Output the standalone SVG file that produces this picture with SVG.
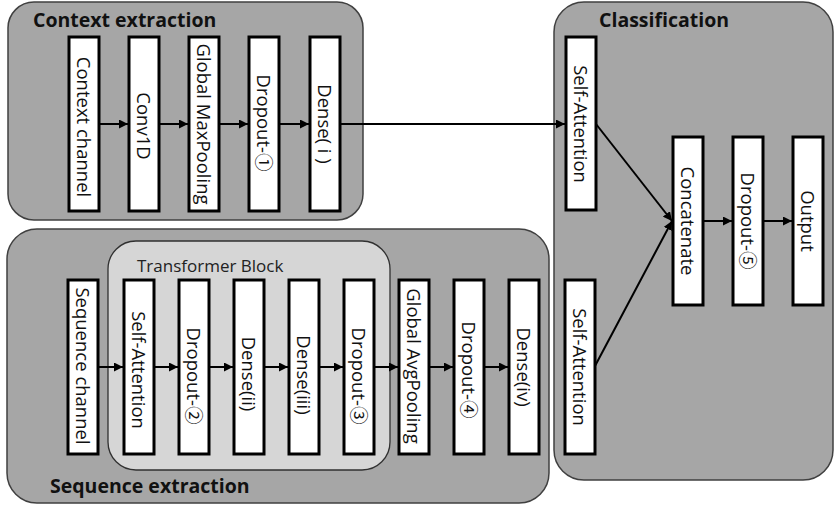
<svg xmlns="http://www.w3.org/2000/svg" width="836" height="507" viewBox="0 0 836 507">
  <style>
    .panel { fill: #a6a6a6; stroke: #404040; stroke-width: 1.5; }
    .block { fill: #d6d6d6; stroke: #303030; stroke-width: 1.3; }
    .layer rect { fill: #ffffff; stroke: #000000; stroke-width: 3; }
    .layer text { font-family: "Open Sans", "Noto Sans CJK KR", sans-serif; font-size: 18.5px; fill: #111; text-anchor: middle; dominant-baseline: central; }
    .title { font-family: "Open Sans", "Noto Sans CJK KR", sans-serif; font-size: 19.5px; font-weight: bold; fill: #111; }
    .sub { font-family: "Open Sans", "Noto Sans CJK KR", sans-serif; font-size: 17px; fill: #222; }
    .conn line { stroke: #000; stroke-width: 2; marker-end: url(#arrow); }
  </style>
  <defs>
    <marker id="arrow" viewBox="0 0 10 10" refX="10" refY="5" markerWidth="4.5" markerHeight="4.5" orient="auto" markerUnits="strokeWidth">
      <path d="M0,0 L10,5 L0,10 z" fill="#000"/>
    </marker>
  </defs>

  <!-- panels -->
  <g id="context-extraction">
    <rect class="panel" x="8" y="2" width="355" height="218" rx="26"/>
    <text class="title" x="33" y="27">Context extraction</text>
  </g>
  <g id="sequence-extraction">
    <rect class="panel" x="7" y="229" width="542" height="274" rx="30"/>
    <text class="title" x="50" y="493">Sequence extraction</text>
  </g>
  <g id="classification">
    <rect class="panel" x="554" y="2" width="279" height="478" rx="30"/>
    <text class="title" x="599" y="27">Classification</text>
  </g>
  <g id="transformer-block">
    <rect class="block" x="108" y="241" width="282" height="229" rx="28"/>
    <text class="sub" x="137" y="272">Transformer Block</text>
  </g>

  <!-- context branch -->
  <g id="context-channel" class="layer">
    <rect x="69" y="37" width="30" height="174"/>
    <text transform="translate(84,127) rotate(90)">Context channel</text>
  </g>
  <g id="conv1d" class="layer">
    <rect x="129" y="37" width="30" height="174"/>
    <text transform="translate(144,126) rotate(90)">Conv1D</text>
  </g>
  <g id="global-maxpooling" class="layer">
    <rect x="189" y="37" width="30" height="174"/>
    <text transform="translate(204,124) rotate(90)">Global MaxPooling</text>
  </g>
  <g id="dropout-1" class="layer">
    <rect x="249" y="37" width="30" height="174"/>
    <text transform="translate(264,123) rotate(90)">Dropout-①</text>
  </g>
  <g id="dense-i" class="layer">
    <rect x="310" y="37" width="30" height="174"/>
    <text transform="translate(325,124) rotate(90)">Dense( i )</text>
  </g>

  <!-- sequence branch -->
  <g id="sequence-channel" class="layer">
    <rect x="68" y="280" width="30" height="174"/>
    <text transform="translate(83,366) rotate(90)">Sequence channel</text>
  </g>
  <g id="self-attention-seq" class="layer">
    <rect x="124" y="280" width="30" height="174"/>
    <text transform="translate(139,370) rotate(90)">Self-Attention</text>
  </g>
  <g id="dropout-2" class="layer">
    <rect x="179" y="280" width="30" height="174"/>
    <text transform="translate(194,376) rotate(90)">Dropout-②</text>
  </g>
  <g id="dense-ii" class="layer">
    <rect x="234" y="280" width="30" height="174"/>
    <text transform="translate(249,374) rotate(90)">Dense(ii)</text>
  </g>
  <g id="dense-iii" class="layer">
    <rect x="289" y="280" width="30" height="174"/>
    <text transform="translate(304,375) rotate(90)">Dense(iii)</text>
  </g>
  <g id="dropout-3" class="layer">
    <rect x="344" y="280" width="30" height="174"/>
    <text transform="translate(359,376) rotate(90)">Dropout-③</text>
  </g>
  <g id="global-avgpooling" class="layer">
    <rect x="399" y="280" width="30" height="174"/>
    <text transform="translate(414,366) rotate(90)">Global AvgPooling</text>
  </g>
  <g id="dropout-4" class="layer">
    <rect x="454" y="280" width="30" height="174"/>
    <text transform="translate(469,370) rotate(90)">Dropout-④</text>
  </g>
  <g id="dense-iv" class="layer">
    <rect x="509" y="280" width="30" height="174"/>
    <text transform="translate(524,367) rotate(90)">Dense(iv)</text>
  </g>

  <!-- classification head -->
  <g id="self-attention-ctx" class="layer">
    <rect x="566" y="37" width="30" height="173"/>
    <text transform="translate(581,124) rotate(90)">Self-Attention</text>
  </g>
  <g id="self-attention-cls" class="layer">
    <rect x="565" y="280" width="30" height="174"/>
    <text transform="translate(580,367) rotate(90)">Self-Attention</text>
  </g>
  <g id="concatenate" class="layer">
    <rect x="673" y="137" width="30" height="168"/>
    <text transform="translate(688,221) rotate(90)">Concatenate</text>
  </g>
  <g id="dropout-5" class="layer">
    <rect x="733" y="137" width="30" height="168"/>
    <text transform="translate(748,221) rotate(90)">Dropout-⑤</text>
  </g>
  <g id="output" class="layer">
    <rect x="793" y="137" width="30" height="168"/>
    <text transform="translate(808,221) rotate(90)">Output</text>
  </g>

  <!-- connectors -->
  <g id="connectors" class="conn">
    <line x1="99" y1="124" x2="128" y2="124"/>
    <line x1="159" y1="124" x2="188" y2="124"/>
    <line x1="219" y1="124" x2="248" y2="124"/>
    <line x1="279" y1="124" x2="309" y2="124"/>
    <line x1="340" y1="124" x2="565" y2="124"/>

    <line x1="98" y1="367" x2="123" y2="367"/>
    <line x1="154" y1="367" x2="178" y2="367"/>
    <line x1="209" y1="367" x2="233" y2="367"/>
    <line x1="264" y1="367" x2="288" y2="367"/>
    <line x1="319" y1="367" x2="343" y2="367"/>
    <line x1="374" y1="367" x2="398" y2="367"/>
    <line x1="429" y1="367" x2="453" y2="367"/>
    <line x1="484" y1="367" x2="508" y2="367"/>

    <line x1="596" y1="124" x2="672" y2="221"/>
    <line x1="595" y1="366" x2="672" y2="221"/>
    <line x1="703" y1="221" x2="732" y2="221"/>
    <line x1="763" y1="221" x2="792" y2="221"/>
  </g>
</svg>
